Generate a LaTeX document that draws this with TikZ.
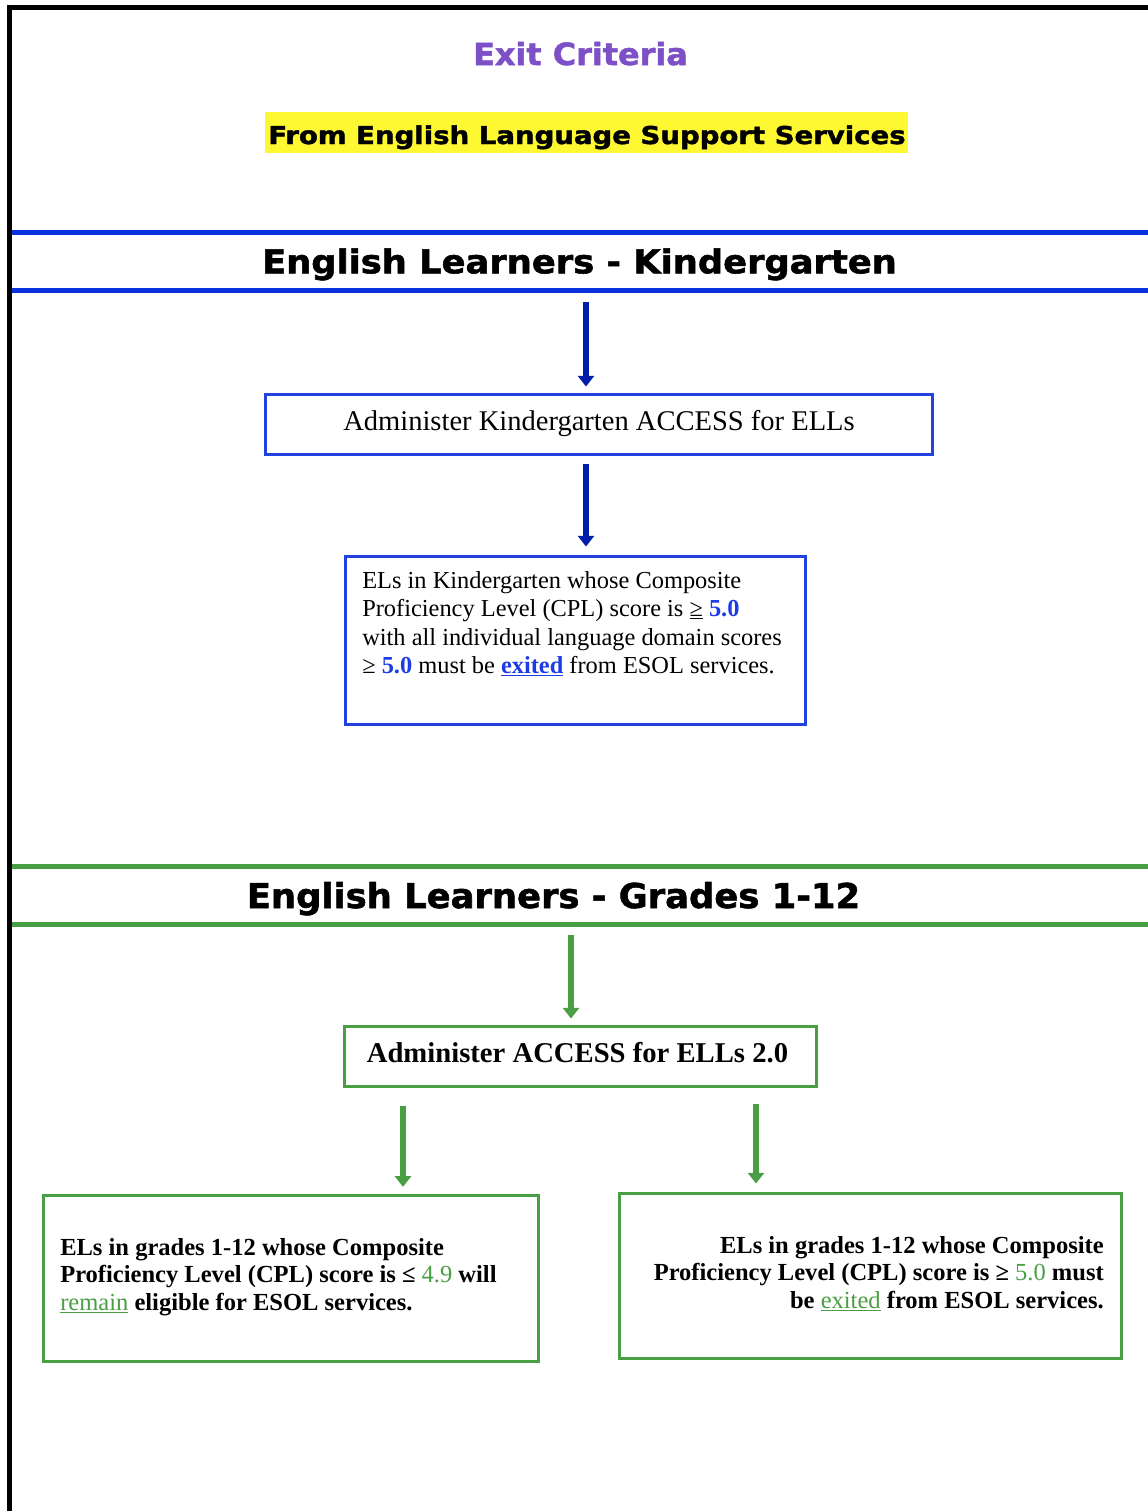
\documentclass[tikz,border=0pt]{standalone}
\usepackage{fontspec}
\usepackage{graphicx}
\setmainfont{Liberation Serif}
\newfontfamily\hfont[FakeBold=1.6]{DejaVu Sans Bold}
\usetikzlibrary{arrows.meta}
\definecolor{ttlpurple}{RGB}{125,80,200}
\definecolor{hiyellow}{RGB}{253,248,50}
\definecolor{lineblue}{RGB}{10,50,220}
\definecolor{arrblue}{RGB}{0,30,170}
\definecolor{boxblue}{RGB}{35,65,225}
\definecolor{numblue}{RGB}{30,60,230}
\definecolor{grn}{RGB}{74,158,68}
\begin{document}
\begin{tikzpicture}[x=0.75pt,y=-0.75pt,
  band/.style={line width=3.75pt},
  bluebox/.style={draw=boxblue,line width=2.25pt,rectangle,inner sep=0pt},
  greenbox/.style={draw=grn,line width=2.25pt,rectangle,inner sep=0pt},
  barrow/.style={draw=arrblue,line width=4.5pt,-{Triangle[width=12pt,length=8pt]}},
  garrow/.style={draw=grn,line width=4.5pt,-{Triangle[width=12pt,length=8pt]}},
  bodytext/.style={inner sep=0pt,font=\fontsize{18.3}{21.2}\selectfont},
  boldtext/.style={inner sep=0pt,font=\fontsize{18.4}{20.6}\selectfont\bfseries},
  hdr/.style={inner sep=0pt,font=\hfont,anchor=base}]
\useasboundingbox (0,0) rectangle (1148,1511);
\fill[white] (0,0) rectangle (1148,1511);
% page border
\draw[line width=3.75pt] (9,1511) -- (9,7) -- (1148,7);
% titles
\fill[hiyellow] (265,112) rectangle (908,153);
\node[hdr,text=ttlpurple] (title) at (580.5,65) {\resizebox{161pt}{17.4pt}{Exit Criteria}};
\node[hdr] (sub) at (587,144) {\resizebox{478pt}{14pt}{From English Language Support Services}};
% kindergarten band
\draw[band,draw=lineblue] (12,232) -- (1148,232);
\draw[band,draw=lineblue] (12,290) -- (1148,290);
\node[hdr] (khead) at (579.5,273.3) {\resizebox{476pt}{18.7pt}{English Learners - Kindergarten}};
\coordinate (ks) at (586,302);
\node[bluebox,minimum width=500.25pt,minimum height=45pt] (b1) at (598.5,424) {};
\node[inner sep=0pt,anchor=base,font=\fontsize{21.4}{24}\selectfont] (t1) at (599,430) {Administer Kindergarten ACCESS for ELLs};
\node[bluebox,minimum width=345pt,minimum height=126pt] (b2) at (575,640) {};
\node[bodytext,anchor=north west,align=left] (t2) at (362,571.3) {ELs in Kindergarten whose Composite\\
Proficiency Level (CPL) score is \underline{≥} \textcolor{numblue}{\textbf{5.0}}\\
with all individual language domain scores\\
≥ \textcolor{numblue}{\textbf{5.0}} must be \textcolor{numblue}{\textbf{\underline{exited}}} from ESOL services.};
\draw[barrow,shorten >=4.5pt] (ks) -- (ks |- b1.north);
\draw[barrow,shorten <=6pt,shorten >=6pt] (b1.south -| ks) -- (b2.north -| ks);
% grades band
\draw[band,draw=grn] (12,866) -- (1148,866);
\draw[band,draw=grn] (12,924) -- (1148,924);
\node[hdr] (ghead) at (553.5,908) {\resizebox{460pt}{19.5pt}{English Learners - Grades 1-12}};
\coordinate (gs) at (571,935);
\node[greenbox,minimum width=354pt,minimum height=45pt] (b3) at (580,1056) {};
\node[inner sep=0pt,anchor=base,font=\fontsize{21.5}{24}\selectfont\bfseries] (t3) at (577.5,1062.7) {Administer ACCESS for ELLs 2.0};
\node[greenbox,minimum width=371.25pt,minimum height=124.5pt] (b4) at (290.5,1278) {};
\node[greenbox,minimum width=376.5pt,minimum height=123.75pt] (b5) at (870,1275.5) {};
\node[boldtext,anchor=north west,align=left] (t4) at (60,1238) {ELs in grades 1-12 whose Composite\\
Proficiency Level (CPL) score is ≤ \textcolor{grn}{\mdseries 4.9} will\\
\textcolor{grn}{\mdseries\underline{remain}} eligible for ESOL services.};
\node[boldtext,anchor=north east,align=right] (t5) at (1104,1236) {ELs in grades 1-12 whose Composite\\
Proficiency Level (CPL) score is ≥ \textcolor{grn}{\mdseries 5.0} must\\
be \textcolor{grn}{\mdseries\underline{exited}} from ESOL services.};
\coordinate (l4) at (403,0);
\coordinate (l5) at (756,0);
\draw[garrow,shorten >=4.5pt] (gs) -- (gs |- b3.north);
\draw[garrow,shorten <=13.5pt,shorten >=5pt] (b3.south -| l4) -- (b4.north -| l4);
\draw[garrow,shorten <=12pt,shorten >=6pt] (b3.south -| l5) -- (b5.north -| l5);
\end{tikzpicture}
\end{document}
